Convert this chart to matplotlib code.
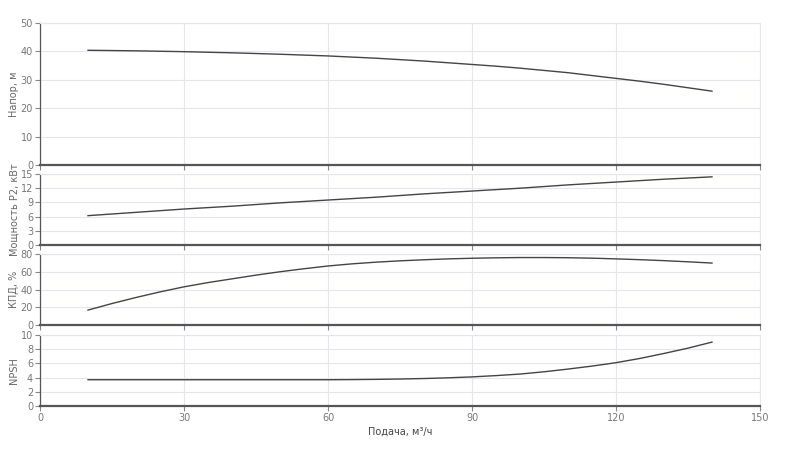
import matplotlib
matplotlib.use("Agg")
import matplotlib.pyplot as plt

plt.rcParams['font.family'] = ['DejaVu Sans']

flow = [10, 15, 20, 25, 30, 35, 40, 45, 50, 55, 60, 65, 70, 75, 80, 85, 90,
        95, 100, 105, 110, 115, 120, 125, 130, 135, 140]
head = [40.4, 40.3, 40.2, 40.05, 39.9, 39.7, 39.5, 39.25, 39.0, 38.7, 38.4, 38.0,
        37.6, 37.1, 36.6, 36.0, 35.4, 34.8, 34.1, 33.3, 32.5, 31.5, 30.5, 29.5,
        28.4, 27.2, 26.0]
power = [6.2, 6.55, 6.9, 7.25, 7.6, 7.9, 8.2, 8.55, 8.9, 9.2, 9.5, 9.8, 10.1, 10.45,
         10.8, 11.1, 11.4, 11.7, 12.0, 12.35, 12.7, 13.0, 13.3, 13.6, 13.9, 14.15, 14.4]
eff = [16.8, 24.2, 31.0, 37.3, 43.0, 47.8, 52.0, 56.2, 60.0, 63.4, 66.5, 68.9, 70.8,
       72.3, 73.5, 74.5, 75.2, 75.7, 76.0, 76.0, 75.8, 75.3, 74.5, 73.6, 72.5, 71.2, 69.8]
npsh = [3.7, 3.7, 3.7, 3.7, 3.7, 3.7, 3.7, 3.7, 3.7, 3.7, 3.7, 3.72, 3.75, 3.8,
        3.87, 3.97, 4.1, 4.28, 4.5, 4.82, 5.2, 5.62, 6.1, 6.7, 7.4, 8.15, 9.0]

x_ticks = [0, 30, 60, 90, 120, 150]
ylabels = ["Напор, м", "Мощность P2, кВт", "КПД, %", "NPSH"]
yticks = [[0, 10, 20, 30, 40, 50], [0, 3, 6, 9, 12, 15], [0, 20, 40, 60, 80], [0, 2, 4, 6, 8, 10]]
series = [head, power, eff, npsh]

W, H = 800, 472
fig = plt.figure(figsize=(8, 4.72), dpi=100)
panels = [(23, 165), (174, 245), (254, 325), (335, 406)]
grid_c = "#e3e6ee"
txt_c = "#777777"

for i, (top, bot) in enumerate(panels):
    ax = fig.add_axes([40 / W, 1 - bot / H, 720 / W, (bot - top) / H])
    ax.plot(flow, series[i], color="#444444", lw=1.0)
    ax.set_xlim(0, 150)
    ax.set_ylim(yticks[i][0], yticks[i][-1])
    ax.set_xticks(x_ticks)
    ax.set_yticks(yticks[i])
    ax.grid(True, color=grid_c, lw=0.8)
    ax.set_axisbelow(True)
    for s in ("top", "right"):
        ax.spines[s].set_color(grid_c)
        ax.spines[s].set_linewidth(0.8)
    ax.spines["left"].set_color("#555555")
    ax.spines["left"].set_linewidth(0.9)
    ax.spines["bottom"].set_color("#555555")
    ax.spines["bottom"].set_linewidth(1.6)
    ax.tick_params(axis="both", colors="#888888", labelcolor=txt_c, labelsize=7,
                   length=3.5, width=0.8, pad=1.5)
    ax.set_ylabel(ylabels[i], fontsize=7, color="#666666")
    ax.yaxis.set_label_coords(-0.029, 0.5)
    if i < 3:
        ax.tick_params(axis="x", labelbottom=False)
    else:
        ax.set_xlabel("Подача, м³/ч", fontsize=7, color="#444444", labelpad=3)

fig.savefig("out.png", dpi=100, facecolor="white")
